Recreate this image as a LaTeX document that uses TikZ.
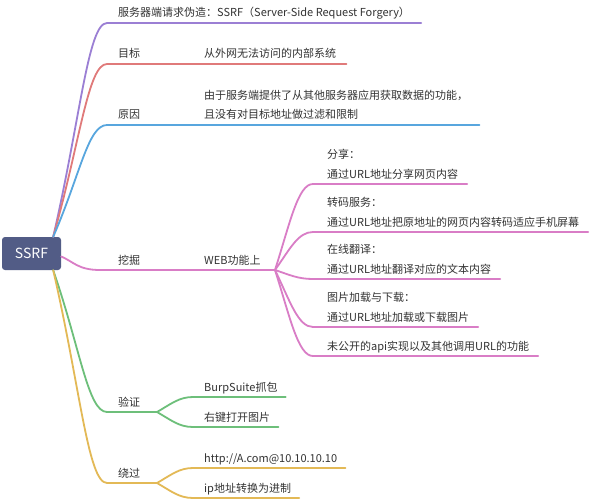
\documentclass[tikz,border=0pt]{standalone}
\usepackage{fontspec}
\setmainfont{Noto Sans CJK SC}
\definecolor{rootbg}{HTML}{525C86}
\definecolor{cpurple}{HTML}{9B7FD4}
\definecolor{cred}{HTML}{E07A7A}
\definecolor{cblue}{HTML}{58A6DE}
\definecolor{cpink}{HTML}{D97DC6}
\definecolor{cgreen}{HTML}{6DBF7A}
\definecolor{cyellow}{HTML}{E3B956}
\definecolor{txt}{HTML}{333333}

\begin{document}
\begin{tikzpicture}[x=1pt,y=-1pt,
    rootbox/.style={fill=rootbg,rounded corners=3pt,text=white,inner sep=0pt,
      minimum width=59pt,minimum height=33pt,font=\fontsize{14}{16}\selectfont},
    topic/.style={anchor=base west,inner sep=0pt,text=txt,font=\fontsize{11}{19.5}\selectfont},
    twoline/.style={topic,align=left},
    branch/.style={line width=1.8pt,line cap=round}]
    \fill[white] (0,0) rectangle (591,500);
    \useasboundingbox (0,0) rectangle (591,500);
    \node[rootbox] (ssrf) at (31.5,253.5) {SSRF};
    \coordinate (up) at ([xshift=-8pt]ssrf.north east);
    \coordinate (dn) at ([xshift=-8pt]ssrf.south east);
    \coordinate (mid) at ([yshift=-3pt]ssrf.east);
    % definition
    \coordinate (def) at (107,23);
    \node[topic] (deftext) at (118,17) {服务器端请求伪造：SSRF（Server-Side Request Forgery）};
    \draw[branch,cpurple] (up) .. controls +(27,-117) and +(-19,0) .. (def)
      -- (deftext.east |- def) -- ++(11,0);
    % goal
    \coordinate (goal) at (107,64);
    \node[topic] (goallab) at (118,58) {目标};
    \node[topic] (goaltext) at (204,58) {从外网无法访问的内部系统};
    \draw[branch,cred] (up) .. controls +(27,-95) and +(-19,0) .. (goal)
      -- (goaltext.east |- goal) -- ++(10,0);
    % cause
    \coordinate (cause) at (107,125);
    \node[topic] (causelab) at (118,119) {原因};
    \node[twoline] (causetext) at (204,119) {由于服务端提供了从其他服务器应用获取数据的功能，\\且没有对目标地址做过滤和限制};
    \draw[branch,cblue] (up) .. controls +(27,-62) and +(-19,0) .. (cause)
      -- (causetext.east |- cause) -- ++(11,0);
    % mining
    \coordinate (mine) at (100,270);
    \coordinate (webhub) at (275,270);
    \node[topic] (minelab) at (118,264) {挖掘};
    \node[topic] (web) at (204,264) {WEB功能上};
    \draw[branch,cpink] (mid) .. controls +(12,5) and +(-22,0) .. (mine) -- (webhub);
    \coordinate (sharel) at (313,184);
    \node[twoline] (share) at (327,178) {分享：\\通过URL地址分享网页内容};
    \draw[branch,cpink] (webhub) .. controls +(15,-47) and +(-15,0) .. (sharel)
      -- (share.east |- sharel) -- ++(9,0);
    \coordinate (transl) at (313,232);
    \node[twoline] (trans) at (327,226) {转码服务：\\通过URL地址把原地址的网页内容转码适应手机屏幕};
    \draw[branch,cpink] (webhub) .. controls +(15,-21) and +(-15,0) .. (transl)
      -- (trans.east |- transl) -- ++(9,0);
    \coordinate (xlatel) at (313,279);
    \node[twoline] (xlate) at (327,273) {在线翻译：\\通过URL地址翻译对应的文本内容};
    \draw[branch,cpink] (webhub) .. controls +(15,5) and +(-15,0) .. (xlatel)
      -- (xlate.east |- xlatel) -- ++(9,0);
    \coordinate (imgl) at (313,327);
    \node[twoline] (img) at (327,321) {图片加载与下载：\\通过URL地址加载或下载图片};
    \draw[branch,cpink] (webhub) .. controls +(15,31) and +(-15,0) .. (imgl)
      -- (img.east |- imgl) -- ++(9,0);
    \coordinate (apil) at (313,356);
    \node[topic] (api) at (327,350) {未公开的api实现以及其他调用URL的功能};
    \draw[branch,cpink] (webhub) .. controls +(15,47) and +(-15,0) .. (apil)
      -- (api.east |- apil) -- ++(9,0);
    % check
    \coordinate (check) at (107,412);
    \coordinate (checkhub) at (157,412);
    \node[topic] (checklab) at (118,406) {验证};
    \draw[branch,cgreen] (dn) .. controls +(27,78) and +(-19,0) .. (check) -- (checkhub);
    \coordinate (burpl) at (193,397);
    \node[topic] (burp) at (204,391) {BurpSuite抓包};
    \draw[branch,cgreen] (checkhub) .. controls +(14,-8) and +(-14,0) .. (burpl)
      -- (burp.east |- burpl) -- ++(8,0);
    \coordinate (rclickl) at (193,427);
    \node[topic] (rclick) at (204,421) {右键打开图片};
    \draw[branch,cgreen] (checkhub) .. controls +(14,8) and +(-14,0) .. (rclickl)
      -- (rclick.east |- rclickl) -- ++(8,0);
    % bypass
    \coordinate (bypass) at (107,483);
    \coordinate (bypasshub) at (157,483);
    \node[topic] (bypasslab) at (118,477) {绕过};
    \draw[branch,cyellow] (dn) .. controls +(27,117) and +(-19,0) .. (bypass) -- (bypasshub);
    \coordinate (atl) at (193,468);
    \node[topic] (at) at (204,462) {http://A.com@10.10.10.10};
    \draw[branch,cyellow] (bypasshub) .. controls +(14,-8) and +(-14,0) .. (atl)
      -- (at.east |- atl) -- ++(8,0);
    \coordinate (ipl) at (193,498);
    \node[topic] (ip) at (204,492) {ip地址转换为进制};
    \draw[branch,cyellow] (bypasshub) .. controls +(14,8) and +(-14,0) .. (ipl)
      -- (ip.east |- ipl) -- ++(8,0);
\end{tikzpicture}
\end{document}
